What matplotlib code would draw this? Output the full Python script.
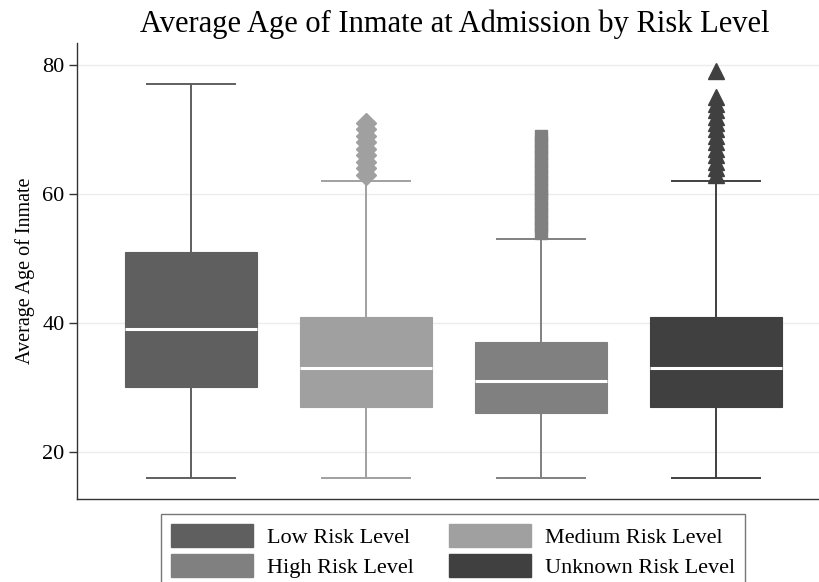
import matplotlib
matplotlib.use("Agg")
import matplotlib.pyplot as plt
from matplotlib.patches import Patch

plt.rcParams['font.family'] = ['Liberation Serif', 'DejaVu Serif']

categories = ["Low Risk Level", "Medium Risk Level", "High Risk Level", "Unknown Risk Level"]
colors = ["#5f5f5f", "#a0a0a0", "#808080", "#404040"]
q1 = [30, 27, 26, 27]
medians = [39, 33, 31, 33]
q3 = [51, 41, 37, 41]
whislo = [16, 16, 16, 16]
whishi = [77, 62, 53, 62]
fliers = [
    [],
    [63, 64, 65, 66, 67, 68, 69, 70, 71],
    [54, 55, 56, 57, 58, 59, 60, 61, 62, 63, 64, 65, 66, 67, 68, 69],
    [63, 64, 65, 66, 67, 68, 69, 70, 71, 72, 73, 74, 75, 79],
]
markers = [None, "D", "s", "^"]
marker_sizes = [0, 10, 9, 11]
yticks = [20, 40, 60, 80]

fig = plt.figure(figsize=(8.19, 5.82), dpi=100)
ax = fig.add_axes([0.094, 0.1426, 0.906, 0.7834])

positions = [1, 2, 3, 4]
for i in range(4):
    st = dict(med=medians[i], q1=q1[i], q3=q3[i], whislo=whislo[i], whishi=whishi[i],
              fliers=fliers[i])
    c = colors[i]
    ax.bxp([st], positions=[positions[i]], widths=0.754, patch_artist=True,
           showfliers=True,
           boxprops=dict(facecolor=c, edgecolor=c, linewidth=0.8),
           medianprops=dict(color="white", linewidth=2.2),
           whiskerprops=dict(color=c, linewidth=1.4),
           capprops=dict(color=c, linewidth=1.4),
           capwidths=0.503,
           flierprops=dict(marker=markers[i] if markers[i] else "o", markersize=marker_sizes[i],
                           markerfacecolor=c, markeredgecolor=c, linestyle="none"))

ax.set_xlim(0.349, 4.589)
ax.set_ylim(12.7, 83.4)
ax.set_yticks(yticks)
ax.set_xticks([])
ax.tick_params(axis="y", labelsize=16, length=6, width=1, color="#333333", pad=3)
ax.yaxis.grid(True, color="#ececec", linewidth=1)
ax.set_axisbelow(True)
for s in ["top", "right"]:
    ax.spines[s].set_visible(False)
for s in ["left", "bottom"]:
    ax.spines[s].set_color("#333333")
    ax.spines[s].set_linewidth(1)

ax.set_ylabel("Average Age of Inmate", fontsize=14.5, labelpad=5)
fig.text(0.555, 0.958, "Average Age of Inmate at Admission by Risk Level", ha="center",
         va="center", fontsize=22)

order = [0, 2, 1, 3]
handles = [Patch(facecolor=colors[i], edgecolor=colors[i]) for i in order]
labels = [categories[i] for i in order]
leg = fig.legend(handles, labels, ncol=2, loc="lower center", bbox_to_anchor=(0.553, -0.03),
                 fontsize=16, frameon=True, fancybox=False, edgecolor="#555555",
                 handlelength=3.7, handleheight=1.2, columnspacing=1.6, handletextpad=0.6,
                 labelspacing=0.3, borderpad=0.45)
leg.get_frame().set_linewidth(1)

fig.savefig("out.png", dpi=100)
